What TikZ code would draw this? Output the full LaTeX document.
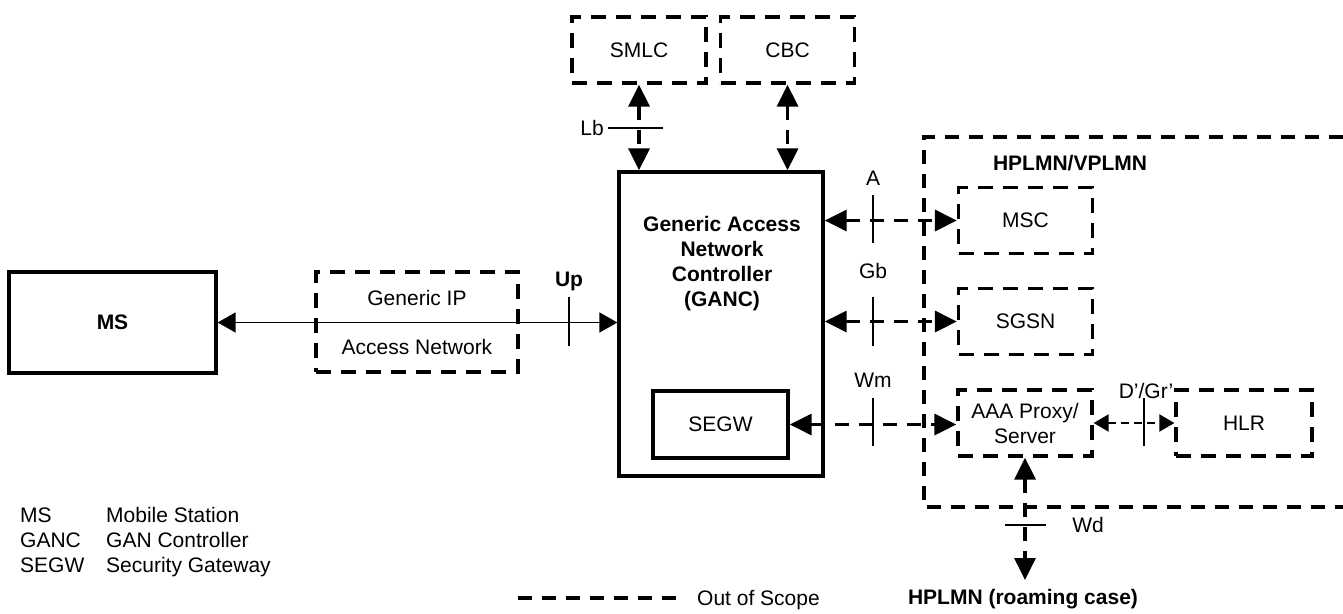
\documentclass[tikz,border=0pt]{standalone}
\usepackage{fontspec}
\setmainfont{Liberation Sans}
\usetikzlibrary{arrows.meta}

\tikzset{
  bigtip/.tip={Triangle[length=22pt,width=21pt]},
  smalltip/.tip={Triangle[length=15pt,width=17pt]},
  ooslink/.style={draw, line width=3.3pt, dash pattern=on 14pt off 10pt, bigtip-bigtip},
  uplink/.style={draw, line width=1.5pt, {Triangle[length=18pt,width=20pt]}-{Triangle[length=18pt,width=20pt]}},
  dgrlink/.style={draw, line width=2pt, dash pattern=on 8pt off 5pt, smalltip-smalltip},
  tick/.style={line width=1.5pt},
  oosline/.style={line width=3.3pt, dash pattern=on 14pt off 10pt}
}

\begin{document}
\begin{tikzpicture}[x=1pt,y=-1pt,font=\fontsize{21}{25}\selectfont]
  \useasboundingbox (0,0) rectangle (1343,613);

  % network elements in scope
  \begin{scope}[every node/.style={draw, line width=3.3pt, inner sep=0pt}]
    \node[minimum width=207, minimum height=101] (ms)   at (112.5,322.5) {\bfseries MS};
    \node[minimum width=204, minimum height=304] (ganc) at (721,324)     {};
    \node[minimum width=135, minimum height=67]  (segw) at (720.5,424.5) {SEGW};
  \end{scope}

  % out of scope elements
  \begin{scope}[every node/.style={draw, line width=3.3pt, dash pattern=on 15pt off 10pt,
                inner sep=0pt, minimum width=134, minimum height=66, align=center}]
    \node[minimum width=202, minimum height=100] (gip) at (417,322)
      {Generic IP\\[24pt]Access Network};
    \node (smlc) at (639,50)       {SMLC};
    \node (cbc)  at (787.5,50)     {CBC};
    \node (msc)  at (1025.5,220.5) {MSC};
    \node (sgsn) at (1025.5,321.5) {SGSN};
    \node (aaa)  at (1025,423)     {AAA Proxy/\\Server};
    \node[minimum width=136] (hlr) at (1244,423) {HLR};
  \end{scope}

  \draw[oosline] (1343,137) -- (924,137) -- (924,507) -- (1343,507);

  % texts and interface labels
  \begin{scope}[every node/.style={inner sep=0pt, text height=15pt, text depth=0pt}]
    \node[align=center, text height=, text depth=] (ganctxt) at (722,264)
      {\bfseries Generic Access\\\bfseries Network\\\bfseries Controller\\\bfseries (GANC)};
    \node (hv)   at (1070,163) {\bfseries HPLMN/VPLMN};
    \node (lA)   at (873,178)  {A};
    \node (lGb)  at (873,271)  {Gb};
    \node (lWm)  at (873,380)  {Wm};
    \node (lUp)  at (569,279)  {\bfseries Up};
    \node (lDGr) at (1146,391) {D’/Gr’};
    \node[anchor=east] (lLb) at (604,128) {Lb};
    \node (lWd)  at (1088,525) {Wd};
    \node (roam) at (1023,597) {\bfseries HPLMN (roaming case)};
    \node[anchor=west] (oos) at (697,598) {Out of Scope};
    \node[anchor=west] (k1) at (20,515)  {MS};
    \node[anchor=west] (k2) at (20,540)  {GANC};
    \node[anchor=west] (k3) at (20,565)  {SEGW};
    \node[anchor=west] (v1) at (106,515) {Mobile Station};
    \node[anchor=west] (v2) at (106,540) {GAN Controller};
    \node[anchor=west] (v3) at (106,565) {Security Gateway};
  \end{scope}

  \coordinate (wdend) at (1024,580);
  \coordinate (oosstart) at (518,598);

  % interfaces
  \path (ms.east) edge[uplink] (ms.east -| ganc.west);
  \path (smlc.south) edge[ooslink] (smlc.south |- ganc.north);
  \path (cbc.south) edge[ooslink] (cbc.south |- ganc.north);
  \path (msc.west -| ganc.east) edge[ooslink] (msc.west);
  \path (sgsn.west -| ganc.east) edge[ooslink] (sgsn.west);
  \path (segw.east) edge[ooslink] (segw.east -| aaa.west);
  \path (aaa.east) edge[dgrlink] (hlr.west);
  \path (aaa.south) edge[ooslink] (aaa.south |- wdend);

  % interface ticks
  \draw[tick] (873,195) -- (873,243);
  \draw[tick] (873,297) -- (873,346);
  \draw[tick] (873,398) -- (873,446);
  \draw[tick] (569,297) -- (569,346);
  \draw[tick] (1144,398) -- (1144,446);
  \draw[tick] (1005,525) -- (1046,525);
  \draw[tick] ([xshift=4pt]lLb.east) -- (663,128);

  \draw[oosline] (oosstart) -- ([xshift=-17pt]oos.west);
\end{tikzpicture}
\end{document}
